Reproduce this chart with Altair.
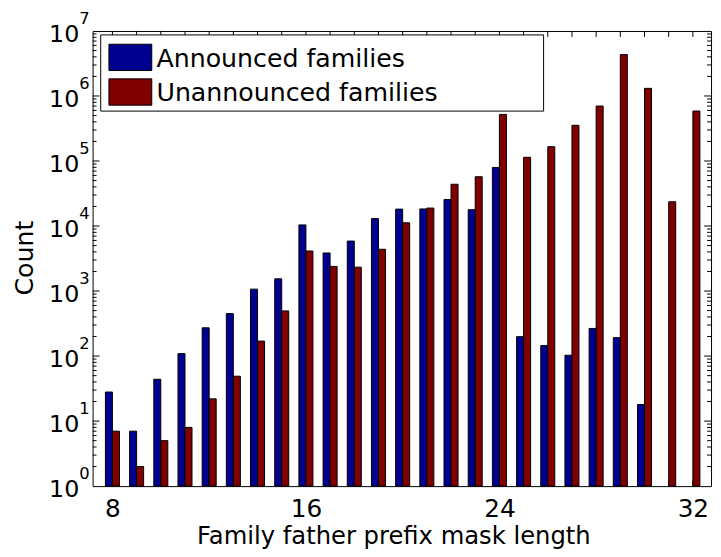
import altair as alt
import pandas as pd

# ---- data ----
lengths = list(range(8, 33))
announced = [28, 7, 44, 109, 272, 450, 1070, 1540, 10400, 3850, 5870, 13000,
             18200, 18300, 25600, 17800, 79600, 199, 145, 103, 266, 192, 18, 0, 0]
unannounced = [7, 2, 5, 8, 22, 49, 170, 495, 4130, 2390, 2330, 4390,
               11200, 18900, 43900, 57300, 521000, 114000, 166000, 354000,
               700000, 4330000, 1310000, 23600, 587000]
series_names = ["Announced families", "Unannounced families"]
series_colors = ["#000090", "#800000"]
x_label_values = [8, 16, 24, 32]
decades = list(range(0, 8))

W, H = 625, 460
FONT = "DejaVu Sans"
BW = 0.29  # bar width in x units

rows = []
for i, L in enumerate(lengths):
    rows.append({"len": L, "series": series_names[0], "count": announced[i], "side": -1})
    rows.append({"len": L, "series": series_names[1], "count": unannounced[i], "side": 1})
df = pd.DataFrame(rows)

xscale = alt.Scale(domain=[7.18, 32.75], nice=False, zero=False)
yscale = alt.Scale(type="log", domain=[1, 1e7], nice=False)

bars = alt.Chart(df).transform_filter("datum.count > 0").transform_calculate(
    x0=f"datum.side < 0 ? datum.len - {BW} : datum.len",
    x1=f"datum.side < 0 ? datum.len : datum.len + {BW}",
    base="1",
).mark_rect(stroke="black", strokeWidth=1).encode(
    x=alt.X("x0:Q", scale=xscale, axis=alt.Axis(
        values=x_label_values, ticks=False, tickSize=0, domain=False, grid=False,
        labelFont=FONT, labelFontSize=25, labelColor="black",
        labelBaseline="alphabetic", labelPadding=31, labelFlush=False,
        title="Family father prefix mask length", titleFont=FONT, titleFontSize=24.5,
        titleFontWeight="normal", titleColor="black", titleX=304, titleY=57.5,
        titleBaseline="alphabetic", titleAlign="center")),
    x2="x1:Q",
    y=alt.Y("count:Q", scale=yscale, axis=alt.Axis(
        labels=False, ticks=False, domain=False, grid=False,
        title="Count", titleFont=FONT, titleFontSize=25.5, titleFontWeight="normal",
        titleColor="black", titleX=-61, titleY=229, titleAngle=270,
        titleAlign="center", titleBaseline="alphabetic")),
    y2="base:Q",
    fill=alt.Fill("series:N", scale=alt.Scale(domain=series_names, range=series_colors),
                  legend=None),
)

# ---- tick marks (inside, MATLAB style) ----
major_y = pd.DataFrame({"v": [10 ** k for k in range(1, 7)]})
minor_y = pd.DataFrame({"v": [m * 10 ** k for k in range(0, 7) for m in range(2, 10)]})
xt = pd.DataFrame({"t": lengths})


def yticks(data, length):
    left = alt.Chart(data).mark_rule(color="black", strokeWidth=1).encode(
        y=alt.Y("v:Q", scale=yscale), x=alt.value(0), x2=alt.value(length))
    right = alt.Chart(data).mark_rule(color="black", strokeWidth=1).encode(
        y=alt.Y("v:Q", scale=yscale), x=alt.value(W - length), x2=alt.value(W))
    return [left, right]


top_ticks = alt.Chart(xt).mark_rule(color="black", strokeWidth=1).encode(
    x=alt.X("t:Q", scale=xscale), y=alt.value(0), y2=alt.value(6))
bottom_ticks = alt.Chart(xt).mark_rule(color="black", strokeWidth=1).encode(
    x=alt.X("t:Q", scale=xscale), y=alt.value(H - 6), y2=alt.value(H))

# ---- y tick labels 10^k ----
dec_df = pd.DataFrame({"v": [10 ** k for k in decades], "e": [str(k) for k in decades]})
lab10 = alt.Chart(dec_df).mark_text(font=FONT, fontSize=24, color="black", align="right",
                                    baseline="alphabetic", dy=11).encode(
    y=alt.Y("v:Q", scale=yscale), x=alt.value(-13.5), text=alt.value("10"))
labexp = alt.Chart(dec_df).mark_text(font=FONT, fontSize=16.5, color="black", align="left",
                                     baseline="alphabetic", dy=-7).encode(
    y=alt.Y("v:Q", scale=yscale), x=alt.value(-13.5), text="e:N")

# ---- legend (drawn manually, MATLAB box style) ----
one = pd.DataFrame({"a": [0]})
leg_box = alt.Chart(one).mark_rect(fill="white", stroke="black", strokeWidth=1).encode(
    x=alt.value(8.2), x2=alt.value(455.8), y=alt.value(4), y2=alt.value(81))
leg_layers = [leg_box]
row_top = [13.4, 48.4]
for i, (name, col) in enumerate(zip(series_names, series_colors)):
    leg_layers.append(alt.Chart(one).mark_rect(fill=col, stroke="black", strokeWidth=1).encode(
        x=alt.value(16.5), x2=alt.value(59.8), y=alt.value(row_top[i]),
        y2=alt.value(row_top[i] + 26.6)))
    leg_layers.append(alt.Chart(one).mark_text(font=FONT, fontSize=25.5, color="black",
                                               align="left", baseline="alphabetic").encode(
        x=alt.value(64.5), y=alt.value(row_top[i] + 22.8), text=alt.value(name)))

layers = (yticks(minor_y, 4) + yticks(major_y, 7) + [top_ticks, bottom_ticks, bars,
                                                     lab10, labexp] + leg_layers)

chart = alt.layer(*layers).properties(
    width=W, height=H,
    autosize=alt.AutoSizeParams(type="none"),
    padding={"left": 85.5, "top": 20.3, "right": 2, "bottom": 66},
    background="white",
).configure_view(stroke="black", strokeWidth=1)

chart.save("out.html", embed_options={"renderer": "svg", "actions": False})
